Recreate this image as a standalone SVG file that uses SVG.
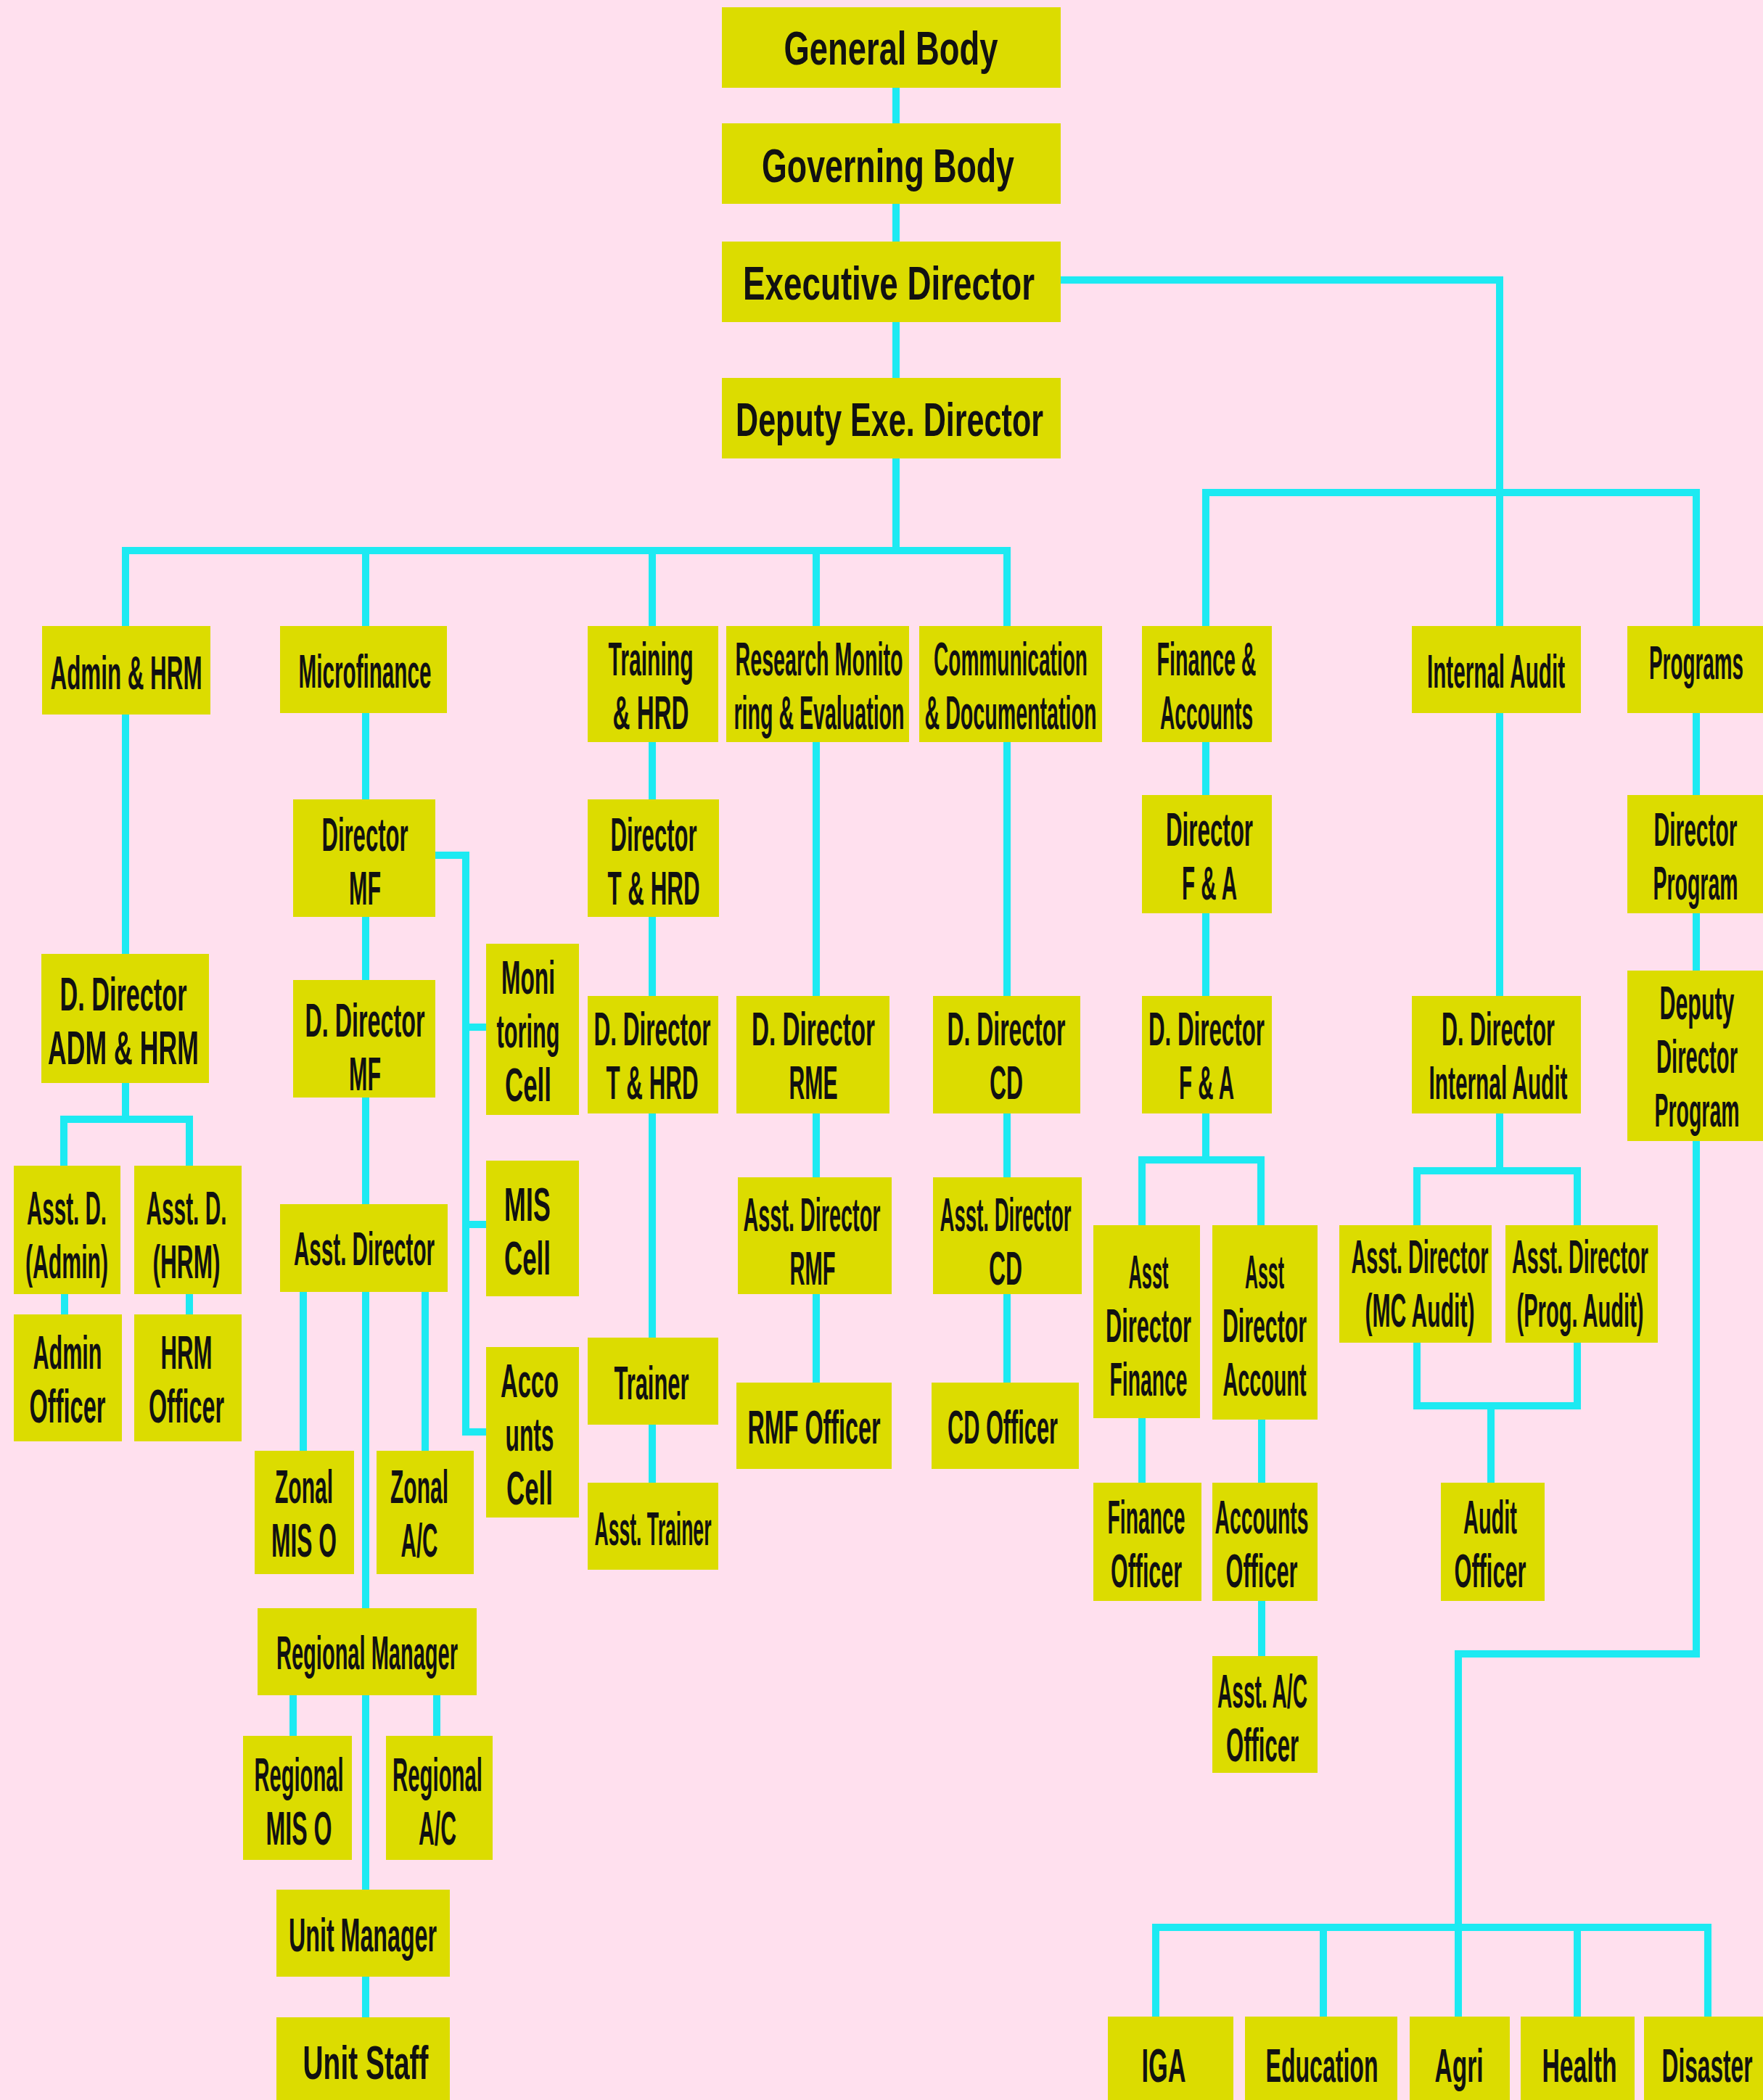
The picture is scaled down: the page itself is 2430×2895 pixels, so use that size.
<svg xmlns="http://www.w3.org/2000/svg" width="2430" height="2895" viewBox="0 0 2430 2895">
<style>
.bg{fill:#FFE0EE}
.box{fill:#DCDC00}
.c{stroke:#1DEAF2;stroke-width:10;fill:none;stroke-linejoin:miter}
text{font-family:"Liberation Sans",Arial,sans-serif;font-size:65px;font-weight:bold;fill:#111;text-anchor:middle}
</style>
<rect class="bg" x="0" y="0" width="2430" height="2895"/>
<g id="connectors">
<path class="c" d="M1235,121V170M1235,281V333M1235,444V521M1235,632V759"/>
<path class="c" d="M1462,386H2067V863"/>
<path class="c" d="M1662,863V679H2338V863"/>
<path class="c" d="M173,863V759H1388V863M504,759V863M899,759V863M1125,759V863"/>
<path class="c" d="M173,985V1315M173,1493V1543M88,1607V1543H261V1607M89,1784V1812M261,1784V1812"/>
<path class="c" d="M504,983V1102M504,1264V1351M504,1513V1660M504,1781V2217M504,2337V2605M504,2725V2781"/>
<path class="c" d="M600,1179H642V1974H670M642,1416H670M642,1688H670"/>
<path class="c" d="M418,1781V2000M586,1781V2000M404,2337V2393M602,2337V2393"/>
<path class="c" d="M899,1023V1102M899,1264V1373M899,1535V1844M899,1964V2044"/>
<path class="c" d="M1125,1023V1373M1125,1535V1623M1125,1784V1906"/>
<path class="c" d="M1388,1023V1373M1388,1535V1623M1388,1784V1906"/>
<path class="c" d="M1662,1023V1096M1662,1259V1373M1662,1535V1599M1574,1689V1599H1738V1689M1574,1955V2044M1739,1957V2044M1739,2207V2283"/>
<path class="c" d="M2067,983V1373M2067,1535V1614M1953,1689V1614H2174V1689M1953,1851V1938H2174V1851M2055,1938V2044"/>
<path class="c" d="M2338,983V1096M2338,1259V1338M2338,1573V2280H2010V2780"/>
<path class="c" d="M1593,2780V2657H2354V2780M1824,2657V2780M2174,2657V2780"/>
</g>
<g id="n-general"><rect class="box" x="995" y="10" width="467" height="111"/><text transform="translate(1228 89) scale(0.5 1)" textLength="590" lengthAdjust="spacingAndGlyphs">General Body</text></g>
<g id="n-governing"><rect class="box" x="995" y="170" width="467" height="111"/><text transform="translate(1224 251) scale(0.5 1)" textLength="696" lengthAdjust="spacingAndGlyphs">Governing Body</text></g>
<g id="n-exec"><rect class="box" x="995" y="333" width="467" height="111"/><text transform="translate(1225 413) scale(0.5 1)" textLength="804" lengthAdjust="spacingAndGlyphs">Executive Director</text></g>
<g id="n-deputy"><rect class="box" x="995" y="521" width="467" height="111"/><text transform="translate(1226 601) scale(0.5 1)" textLength="848" lengthAdjust="spacingAndGlyphs">Deputy Exe. Director</text></g>
<g id="n-admin-hrm"><rect class="box" x="58" y="863" width="232" height="122"/><text transform="translate(174 950) scale(0.5 1)" textLength="418" lengthAdjust="spacingAndGlyphs">Admin &amp; HRM</text></g>
<g id="n-microfinance"><rect class="box" x="386" y="863" width="230" height="120"/><text transform="translate(503 948) scale(0.5 1)" textLength="366" lengthAdjust="spacingAndGlyphs">Microfinance</text></g>
<g id="n-training"><rect class="box" x="810" y="863" width="180" height="160"/><text transform="translate(897 931) scale(0.5 1)" textLength="234" lengthAdjust="spacingAndGlyphs">Training</text><text transform="translate(897 1005) scale(0.5 1)" textLength="210" lengthAdjust="spacingAndGlyphs">&amp; HRD</text></g>
<g id="n-rme"><rect class="box" x="1001" y="863" width="252" height="160"/><text transform="translate(1129 931) scale(0.5 1)" textLength="462" lengthAdjust="spacingAndGlyphs">Research Monito</text><text transform="translate(1129 1005) scale(0.5 1)" textLength="470" lengthAdjust="spacingAndGlyphs">ring &amp; Evaluation</text></g>
<g id="n-comm"><rect class="box" x="1267" y="863" width="252" height="160"/><text transform="translate(1393 931) scale(0.5 1)" textLength="424" lengthAdjust="spacingAndGlyphs">Communication</text><text transform="translate(1393 1005) scale(0.5 1)" textLength="474" lengthAdjust="spacingAndGlyphs">&amp; Documentation</text></g>
<g id="n-fa"><rect class="box" x="1574" y="863" width="179" height="160"/><text transform="translate(1663 931) scale(0.5 1)" textLength="274" lengthAdjust="spacingAndGlyphs">Finance &amp;</text><text transform="translate(1663 1005) scale(0.5 1)" textLength="256" lengthAdjust="spacingAndGlyphs">Accounts</text></g>
<g id="n-ia"><rect class="box" x="1946" y="863" width="233" height="120"/><text transform="translate(2062 948) scale(0.5 1)" textLength="380" lengthAdjust="spacingAndGlyphs">Internal Audit</text></g>
<g id="n-programs"><rect class="box" x="2243" y="863" width="187" height="120"/><text transform="translate(2338 936) scale(0.5 1)" textLength="260" lengthAdjust="spacingAndGlyphs">Programs</text></g>
<g id="n-dir-mf"><rect class="box" x="404" y="1102" width="196" height="162"/><text transform="translate(503 1173) scale(0.5 1)" textLength="238" lengthAdjust="spacingAndGlyphs">Director</text><text transform="translate(503 1247) scale(0.5 1)" textLength="88" lengthAdjust="spacingAndGlyphs">MF</text></g>
<g id="n-dir-thrd"><rect class="box" x="810" y="1102" width="181" height="162"/><text transform="translate(901 1173) scale(0.5 1)" textLength="238" lengthAdjust="spacingAndGlyphs">Director</text><text transform="translate(901 1247) scale(0.5 1)" textLength="254" lengthAdjust="spacingAndGlyphs">T &amp; HRD</text></g>
<g id="n-dir-fa"><rect class="box" x="1574" y="1096" width="179" height="163"/><text transform="translate(1667 1166) scale(0.5 1)" textLength="240" lengthAdjust="spacingAndGlyphs">Director</text><text transform="translate(1667 1240) scale(0.5 1)" textLength="152" lengthAdjust="spacingAndGlyphs">F &amp; A</text></g>
<g id="n-dir-prog"><rect class="box" x="2243" y="1096" width="187" height="163"/><text transform="translate(2337 1166) scale(0.5 1)" textLength="230" lengthAdjust="spacingAndGlyphs">Director</text><text transform="translate(2337 1240) scale(0.5 1)" textLength="234" lengthAdjust="spacingAndGlyphs">Program</text></g>
<g id="n-moni"><rect class="box" x="670" y="1301" width="128" height="236"/><text transform="translate(728 1370) scale(0.5 1)" textLength="148" lengthAdjust="spacingAndGlyphs">Moni</text><text transform="translate(728 1444) scale(0.5 1)" textLength="174" lengthAdjust="spacingAndGlyphs">toring</text><text transform="translate(728 1518) scale(0.5 1)" textLength="128" lengthAdjust="spacingAndGlyphs">Cell</text></g>
<g id="n-dd-adm"><rect class="box" x="57" y="1315" width="231" height="178"/><text transform="translate(170 1393) scale(0.5 1)" textLength="350" lengthAdjust="spacingAndGlyphs">D. Director</text><text transform="translate(170 1467) scale(0.5 1)" textLength="416" lengthAdjust="spacingAndGlyphs">ADM &amp; HRM</text></g>
<g id="n-dd-mf"><rect class="box" x="404" y="1351" width="196" height="162"/><text transform="translate(503 1429) scale(0.5 1)" textLength="330" lengthAdjust="spacingAndGlyphs">D. Director</text><text transform="translate(503 1503) scale(0.5 1)" textLength="88" lengthAdjust="spacingAndGlyphs">MF</text></g>
<g id="n-dd-thrd"><rect class="box" x="810" y="1373" width="180" height="162"/><text transform="translate(899 1441) scale(0.5 1)" textLength="322" lengthAdjust="spacingAndGlyphs">D. Director</text><text transform="translate(899 1515) scale(0.5 1)" textLength="254" lengthAdjust="spacingAndGlyphs">T &amp; HRD</text></g>
<g id="n-dd-rme"><rect class="box" x="1015" y="1373" width="211" height="162"/><text transform="translate(1121 1441) scale(0.5 1)" textLength="340" lengthAdjust="spacingAndGlyphs">D. Director</text><text transform="translate(1121 1515) scale(0.5 1)" textLength="134" lengthAdjust="spacingAndGlyphs">RME</text></g>
<g id="n-dd-cd"><rect class="box" x="1286" y="1373" width="203" height="162"/><text transform="translate(1387 1441) scale(0.5 1)" textLength="326" lengthAdjust="spacingAndGlyphs">D. Director</text><text transform="translate(1387 1515) scale(0.5 1)" textLength="92" lengthAdjust="spacingAndGlyphs">CD</text></g>
<g id="n-dd-fa"><rect class="box" x="1574" y="1373" width="179" height="162"/><text transform="translate(1663 1441) scale(0.5 1)" textLength="320" lengthAdjust="spacingAndGlyphs">D. Director</text><text transform="translate(1663 1515) scale(0.5 1)" textLength="152" lengthAdjust="spacingAndGlyphs">F &amp; A</text></g>
<g id="n-dd-ia"><rect class="box" x="1946" y="1373" width="233" height="162"/><text transform="translate(2065 1441) scale(0.5 1)" textLength="312" lengthAdjust="spacingAndGlyphs">D. Director</text><text transform="translate(2065 1515) scale(0.5 1)" textLength="382" lengthAdjust="spacingAndGlyphs">Internal Audit</text></g>
<g id="n-ddir-prog"><rect class="box" x="2243" y="1338" width="187" height="235"/><text transform="translate(2339 1405) scale(0.5 1)" textLength="206" lengthAdjust="spacingAndGlyphs">Deputy</text><text transform="translate(2339 1479) scale(0.5 1)" textLength="224" lengthAdjust="spacingAndGlyphs">Director</text><text transform="translate(2339 1553) scale(0.5 1)" textLength="234" lengthAdjust="spacingAndGlyphs">Program</text></g>
<g id="n-asst-admin"><rect class="box" x="19" y="1607" width="147" height="177"/><text transform="translate(92 1688) scale(0.5 1)" textLength="220" lengthAdjust="spacingAndGlyphs">Asst. D.</text><text transform="translate(92 1762) scale(0.5 1)" textLength="228" lengthAdjust="spacingAndGlyphs">(Admin)</text></g>
<g id="n-asst-hrm"><rect class="box" x="185" y="1607" width="148" height="177"/><text transform="translate(257 1688) scale(0.5 1)" textLength="222" lengthAdjust="spacingAndGlyphs">Asst. D.</text><text transform="translate(257 1762) scale(0.5 1)" textLength="186" lengthAdjust="spacingAndGlyphs">(HRM)</text></g>
<g id="n-admin-off"><rect class="box" x="19" y="1812" width="149" height="175"/><text transform="translate(93 1887) scale(0.5 1)" textLength="190" lengthAdjust="spacingAndGlyphs">Admin</text><text transform="translate(93 1961) scale(0.5 1)" textLength="210" lengthAdjust="spacingAndGlyphs">Officer</text></g>
<g id="n-hrm-off"><rect class="box" x="185" y="1812" width="148" height="175"/><text transform="translate(257 1887) scale(0.5 1)" textLength="142" lengthAdjust="spacingAndGlyphs">HRM</text><text transform="translate(257 1961) scale(0.5 1)" textLength="208" lengthAdjust="spacingAndGlyphs">Officer</text></g>
<g id="n-mis-cell"><rect class="box" x="670" y="1600" width="128" height="187"/><text transform="translate(727 1683) scale(0.5 1)" textLength="128" lengthAdjust="spacingAndGlyphs">MIS</text><text transform="translate(727 1757) scale(0.5 1)" textLength="128" lengthAdjust="spacingAndGlyphs">Cell</text></g>
<g id="n-acc-cell"><rect class="box" x="670" y="1857" width="128" height="235"/><text transform="translate(730 1926) scale(0.5 1)" textLength="160" lengthAdjust="spacingAndGlyphs">Acco</text><text transform="translate(730 2000) scale(0.5 1)" textLength="134" lengthAdjust="spacingAndGlyphs">unts</text><text transform="translate(730 2074) scale(0.5 1)" textLength="128" lengthAdjust="spacingAndGlyphs">Cell</text></g>
<g id="n-asst-mf"><rect class="box" x="386" y="1660" width="231" height="121"/><text transform="translate(502 1744) scale(0.5 1)" textLength="388" lengthAdjust="spacingAndGlyphs">Asst. Director</text></g>
<g id="n-zonal-mis"><rect class="box" x="351" y="2000" width="137" height="170"/><text transform="translate(419 2072) scale(0.5 1)" textLength="160" lengthAdjust="spacingAndGlyphs">Zonal</text><text transform="translate(419 2146) scale(0.5 1)" textLength="180" lengthAdjust="spacingAndGlyphs">MIS O</text></g>
<g id="n-zonal-ac"><rect class="box" x="519" y="2000" width="134" height="170"/><text transform="translate(578 2072) scale(0.5 1)" textLength="160" lengthAdjust="spacingAndGlyphs">Zonal</text><text transform="translate(578 2146) scale(0.5 1)" textLength="102" lengthAdjust="spacingAndGlyphs">A/C</text></g>
<g id="n-asst-rmf"><rect class="box" x="1017" y="1623" width="212" height="161"/><text transform="translate(1119 1697) scale(0.5 1)" textLength="378" lengthAdjust="spacingAndGlyphs">Asst. Director</text><text transform="translate(1120 1771) scale(0.5 1)" textLength="126" lengthAdjust="spacingAndGlyphs">RMF</text></g>
<g id="n-asst-cd"><rect class="box" x="1286" y="1623" width="205" height="161"/><text transform="translate(1386 1697) scale(0.5 1)" textLength="362" lengthAdjust="spacingAndGlyphs">Asst. Director</text><text transform="translate(1386 1771) scale(0.5 1)" textLength="92" lengthAdjust="spacingAndGlyphs">CD</text></g>
<g id="n-trainer"><rect class="box" x="810" y="1844" width="180" height="120"/><text transform="translate(898 1929) scale(0.5 1)" textLength="206" lengthAdjust="spacingAndGlyphs">Trainer</text></g>
<g id="n-rmf-off"><rect class="box" x="1015" y="1906" width="214" height="119"/><text transform="translate(1122 1990) scale(0.5 1)" textLength="366" lengthAdjust="spacingAndGlyphs">RMF Officer</text></g>
<g id="n-cd-off"><rect class="box" x="1284" y="1906" width="203" height="119"/><text transform="translate(1382 1990) scale(0.5 1)" textLength="304" lengthAdjust="spacingAndGlyphs">CD Officer</text></g>
<g id="n-asst-trainer"><rect class="box" x="810" y="2044" width="180" height="120"/><text transform="translate(900 2130) scale(0.5 1)" textLength="322" lengthAdjust="spacingAndGlyphs">Asst. Trainer</text></g>
<g id="n-asst-fin"><rect class="box" x="1507" y="1689" width="147" height="266"/><text transform="translate(1583 1776) scale(0.5 1)" textLength="110" lengthAdjust="spacingAndGlyphs">Asst</text><text transform="translate(1583 1850) scale(0.5 1)" textLength="236" lengthAdjust="spacingAndGlyphs">Director</text><text transform="translate(1583 1924) scale(0.5 1)" textLength="214" lengthAdjust="spacingAndGlyphs">Finance</text></g>
<g id="n-asst-acc"><rect class="box" x="1671" y="1689" width="145" height="268"/><text transform="translate(1743 1776) scale(0.5 1)" textLength="108" lengthAdjust="spacingAndGlyphs">Asst</text><text transform="translate(1743 1850) scale(0.5 1)" textLength="232" lengthAdjust="spacingAndGlyphs">Director</text><text transform="translate(1743 1924) scale(0.5 1)" textLength="230" lengthAdjust="spacingAndGlyphs">Account</text></g>
<g id="n-asst-mc"><rect class="box" x="1846" y="1689" width="210" height="162"/><text transform="translate(1957 1755) scale(0.5 1)" textLength="378" lengthAdjust="spacingAndGlyphs">Asst. Director</text><text transform="translate(1957 1829) scale(0.5 1)" textLength="302" lengthAdjust="spacingAndGlyphs">(MC Audit)</text></g>
<g id="n-asst-prog"><rect class="box" x="2075" y="1689" width="210" height="162"/><text transform="translate(2178 1755) scale(0.5 1)" textLength="376" lengthAdjust="spacingAndGlyphs">Asst. Director</text><text transform="translate(2178 1829) scale(0.5 1)" textLength="350" lengthAdjust="spacingAndGlyphs">(Prog. Audit)</text></g>
<g id="n-fin-off"><rect class="box" x="1507" y="2044" width="149" height="163"/><text transform="translate(1580 2114) scale(0.5 1)" textLength="214" lengthAdjust="spacingAndGlyphs">Finance</text><text transform="translate(1580 2188) scale(0.5 1)" textLength="196" lengthAdjust="spacingAndGlyphs">Officer</text></g>
<g id="n-acc-off"><rect class="box" x="1671" y="2044" width="145" height="163"/><text transform="translate(1739 2114) scale(0.5 1)" textLength="258" lengthAdjust="spacingAndGlyphs">Accounts</text><text transform="translate(1739 2188) scale(0.5 1)" textLength="198" lengthAdjust="spacingAndGlyphs">Officer</text></g>
<g id="n-audit-off"><rect class="box" x="1986" y="2044" width="143" height="163"/><text transform="translate(2054 2114) scale(0.5 1)" textLength="148" lengthAdjust="spacingAndGlyphs">Audit</text><text transform="translate(2054 2188) scale(0.5 1)" textLength="198" lengthAdjust="spacingAndGlyphs">Officer</text></g>
<g id="n-asst-ac-off"><rect class="box" x="1671" y="2283" width="145" height="161"/><text transform="translate(1740 2354) scale(0.5 1)" textLength="248" lengthAdjust="spacingAndGlyphs">Asst. A/C</text><text transform="translate(1740 2428) scale(0.5 1)" textLength="200" lengthAdjust="spacingAndGlyphs">Officer</text></g>
<g id="n-regional-mgr"><rect class="box" x="355" y="2217" width="302" height="120"/><text transform="translate(506 2301) scale(0.5 1)" textLength="500" lengthAdjust="spacingAndGlyphs">Regional Manager</text></g>
<g id="n-reg-mis"><rect class="box" x="335" y="2393" width="150" height="171"/><text transform="translate(412 2469) scale(0.5 1)" textLength="246" lengthAdjust="spacingAndGlyphs">Regional</text><text transform="translate(412 2543) scale(0.5 1)" textLength="182" lengthAdjust="spacingAndGlyphs">MIS O</text></g>
<g id="n-reg-ac"><rect class="box" x="532" y="2393" width="147" height="171"/><text transform="translate(603 2469) scale(0.5 1)" textLength="248" lengthAdjust="spacingAndGlyphs">Regional</text><text transform="translate(603 2543) scale(0.5 1)" textLength="104" lengthAdjust="spacingAndGlyphs">A/C</text></g>
<g id="n-unit-mgr"><rect class="box" x="381" y="2605" width="239" height="120"/><text transform="translate(500 2690) scale(0.5 1)" textLength="408" lengthAdjust="spacingAndGlyphs">Unit Manager</text></g>
<g id="n-unit-staff"><rect class="box" x="381" y="2781" width="239" height="114"/><text transform="translate(504 2866) scale(0.5 1)" textLength="346" lengthAdjust="spacingAndGlyphs">Unit Staff</text></g>
<g id="n-iga"><rect class="box" x="1527" y="2780" width="173" height="115"/><text transform="translate(1604 2870) scale(0.5 1)" textLength="122" lengthAdjust="spacingAndGlyphs">IGA</text></g>
<g id="n-education"><rect class="box" x="1716" y="2780" width="210" height="115"/><text transform="translate(1822 2870) scale(0.5 1)" textLength="310" lengthAdjust="spacingAndGlyphs">Education</text></g>
<g id="n-agri"><rect class="box" x="1943" y="2780" width="138" height="115"/><text transform="translate(2011 2870) scale(0.5 1)" textLength="134" lengthAdjust="spacingAndGlyphs">Agri</text></g>
<g id="n-health"><rect class="box" x="2096" y="2780" width="157" height="115"/><text transform="translate(2177 2870) scale(0.5 1)" textLength="206" lengthAdjust="spacingAndGlyphs">Health</text></g>
<g id="n-disaster"><rect class="box" x="2266" y="2780" width="164" height="115"/><text transform="translate(2353 2870) scale(0.5 1)" textLength="250" lengthAdjust="spacingAndGlyphs">Disaster</text></g>
</svg>
